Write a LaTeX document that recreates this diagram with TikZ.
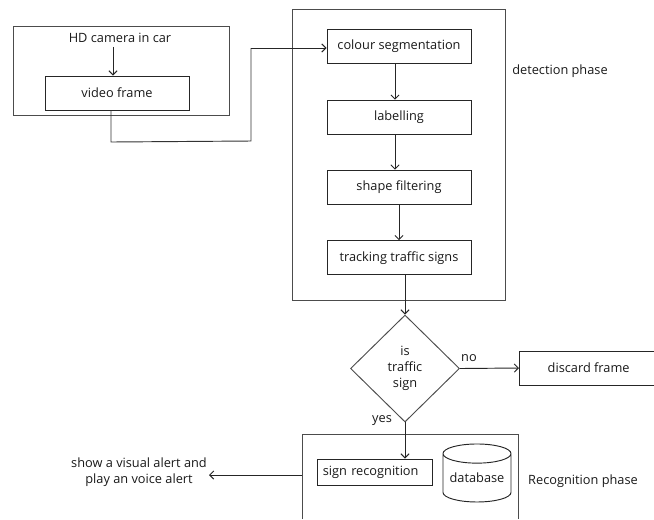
\documentclass[tikz,border=0pt]{standalone}
\usepackage{fontspec}
\setmainfont{Open Sans}
\usetikzlibrary{positioning,shapes.geometric,arrows.meta}

\tikzset{
  every node/.style = {font = \fontsize{10.9}{13.6}\selectfont, text = black!90},
  stepbox/.style = {draw = black!85, line width = 0.8pt, shape = rectangle, minimum width = 4.32cm, minimum height = 1.02cm},
  phasebox/.style = {draw = black!70, line width = 0.8pt, shape = rectangle},
  flow/.style = {draw = black!85, line width = 0.8pt, -{Straight Barb[length = 3.5pt, width = 7pt]}},
  wire/.style = {draw = black!80, line width = 0.8pt}
}

\begin{document}
\begin{tikzpicture}[x = 0.03cm, y = -0.03cm]
\useasboundingbox (0,0) rectangle (654,519);

% camera part
\node[phasebox, minimum width = 6.48cm, minimum height = 2.67cm] (camerabox) at (121,70.5) {};
\node (camera) at (120,38) {HD camera in car};
\node[stepbox] (video) at (117,93) {video frame};

% detection phase
\node[phasebox, minimum width = 6.39cm, minimum height = 8.73cm] (detectbox) at (398.5,154.5) {};
\node[stepbox] (colour) at (399,46.5) {colour segmentation};
\node[stepbox, below = 1.07cm of colour] (labelling) {labelling};
\node[stepbox, below = 1.05cm of labelling] (shapefilter) {shape filtering};
\node[stepbox, below = 1.07cm of shapefilter] (tracking) {tracking traffic signs};
\node (detectlabel) at (560,71) {detection phase};

% decision
\node[draw = black!70, line width = 0.8pt, shape = diamond, minimum width = 3.27cm, minimum height = 3.21cm, align = center, inner sep = 0pt] (istraffic) at (405,368.5) {is\\traffic\\sign};
\node[stepbox, anchor = west, minimum width = 4.15cm] (discard) at (519,368) {discard frame};
\node (no) at (469,358) {no};
\node (yes) at (382,421) {yes};

% recognition phase
\draw[wire, draw = black!70] (302,519) |- (518,434) -- (518,519);
\coordinate (recogleft) at (302,475);
\node[draw = black!85, line width = 0.8pt, shape = rectangle, minimum width = 3.45cm, minimum height = 0.78cm, text width = 3.1cm, align = left] (sign) at (374.5,472) {sign recognition};
\node[draw = black!85, line width = 0.8pt, shape = cylinder, shape border rotate = 90, aspect = 0.35, minimum width = 2.04cm, minimum height = 1.74cm, inner sep = 0pt] (database) at (477,478) {\raisebox{-2pt}{database}};
\node (recoglabel) at (583,481) {Recognition phase};
\node[align = center] (alert) at (139,472) {show a visual alert and\\play an voice alert};
\coordinate (alertend) at (209,475);

% connectors
\draw[flow] (camera.south -| 113,0) -- (video.north -| 113,0);
\draw[wire] (video.south -| 111,0) -- (111,142) -- (251,141) -- (251,48);
\draw[flow] (251,48) -- (colour.west |- 0,48);
\draw[flow] ([xshift = -0.12cm]colour.south) -- ([xshift = -0.12cm]labelling.north);
\draw[flow] ([xshift = -0.12cm]labelling.south) -- ([xshift = -0.12cm]shapefilter.north);
\draw[flow] (shapefilter) -- (tracking);
\draw[flow] (tracking.south -| istraffic.north) -- (istraffic.north);
\draw[flow] (istraffic.east) -- (discard.west);
\draw[flow] (istraffic.south) -- (sign.north -| istraffic.south);
\draw[flow] (recogleft) -- (alertend);
\end{tikzpicture}
\end{document}
